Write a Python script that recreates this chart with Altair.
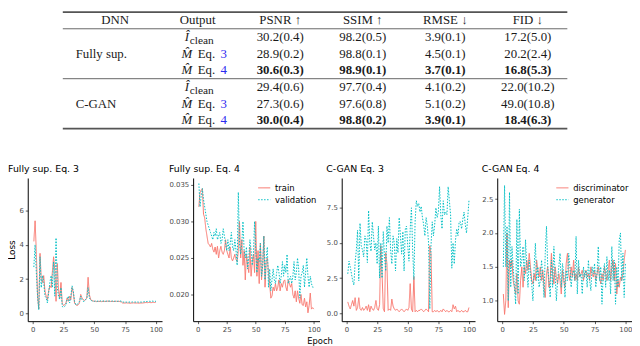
import altair as alt
import pandas as pd

# ---------------- table values ----------------
headers = ["DNN", "Output", "PSNR ↑", "SSIM ↑", "RMSE ↓", "FID ↓"]
row_keys = ["h", "r1", "r2", "r3", "r4", "r5", "r6"]
dnn_groups = ["Fully sup.", "C-GAN"]
dnn_group_rows = ["r2", "r5"]
output_symbol = ["Î", "M\u0302", "M\u0302", "Î", "M\u0302", "M\u0302"]
output_sub = ["clean", "", "", "clean", "", ""]
output_eq = ["", "3", "4", "", "3", "4"]
psnr = ["30.2(0.4)", "28.9(0.2)", "30.6(0.3)", "29.4(0.6)", "27.3(0.6)", "30.0(0.4)"]
ssim = ["98.2(0.5)", "98.8(0.1)", "98.9(0.1)", "97.7(0.4)", "97.6(0.8)", "98.8(0.2)"]
rmse = ["3.9(0.1)", "4.5(0.1)", "3.7(0.1)", "4.1(0.2)", "5.1(0.2)", "3.9(0.1)"]
fid = ["17.2(5.0)", "20.2(2.4)", "16.8(5.3)", "22.0(10.2)", "49.0(10.8)", "18.4(6.3)"]
bold_rows = ["r3", "r6"]

# ---------------- loss curves ----------------
x_ticks = [0, 25, 50, 75, 100]
x_domain = [-3.95, 104.95]

p1_train = [4.2, 5.4, 3.6, 1.0, 0.25, 3.5, 2.0, 1.8, 2.2, 1.3,
            1.0, 0.8, 1.3, 1.6, 1.5, 2.4, 3.3, 2.5, 0.7, 2.9,
            1.4, 0.9, 1.8, 0.6, 0.45, 0.5, 0.6, 0.9, 0.7, 1.0,
            0.8, 1.5, 1.2, 0.6, 0.5, 0.45, 0.5, 0.6, 1.1, 0.9,
            0.8, 0.75, 0.8, 0.9, 2.1, 1.1, 0.8, 0.75, 0.72, 0.7,
            0.7, 0.68, 0.7, 0.69, 0.7, 0.68, 0.7, 0.7, 0.69, 0.7,
            0.71, 0.7, 0.69, 0.7, 0.7, 0.68, 0.7, 0.7, 0.69, 0.7,
            0.68, 0.66, 0.6, 0.6, 0.6, 0.61, 0.6, 0.6, 0.59, 0.6,
            0.6, 0.61, 0.6, 0.6, 0.6, 0.59, 0.6, 0.6, 0.6, 0.61,
            0.62, 0.63, 0.62, 0.63, 0.63, 0.62, 0.63, 0.64, 0.63, 0.65]
p1_val = [2.7, 4.0, 2.4, 1.0, 0.2, 3.3, 1.5, 2.2, 1.8, 1.0,
          0.9, 0.6, 1.2, 1.8, 2.2, 1.5, 3.0, 1.0, 4.4, 1.5,
          1.0, 0.8, 1.5, 0.4, 0.35, 0.4, 0.5, 0.8, 1.0, 0.6,
          1.0, 1.6, 1.3, 0.7, 0.5, 0.5, 0.6, 0.7, 1.0, 0.8,
          0.7, 0.7, 0.8, 0.9, 1.5, 0.9, 0.8, 0.72, 0.7, 0.7,
          0.72, 0.7, 0.71, 0.7, 0.72, 0.7, 0.71, 0.72, 0.7, 0.71,
          0.7, 0.72, 0.71, 0.7, 0.72, 0.71, 0.7, 0.72, 0.7, 0.71,
          0.72, 0.7, 0.66, 0.65, 0.66, 0.65, 0.66, 0.65, 0.66, 0.65,
          0.66, 0.65, 0.66, 0.65, 0.66, 0.65, 0.66, 0.65, 0.66, 0.67,
          0.68, 0.68, 0.69, 0.7, 0.7, 0.69, 0.71, 0.7, 0.7, 0.7]

p2_train = [0.0320, 0.0340, 0.0343, 0.0345, 0.0310, 0.0305, 0.0290, 0.0280, 0.0270, 0.0268,
            0.0265, 0.0270, 0.0262, 0.0258, 0.0265, 0.0255, 0.0266, 0.0250, 0.0260, 0.0266,
            0.0258, 0.0255, 0.0260, 0.0275, 0.0260, 0.0255, 0.0250, 0.0265, 0.0250, 0.0246,
            0.0250, 0.0255, 0.0248, 0.0245, 0.0260, 0.0300, 0.0250, 0.0275, 0.0240, 0.0260,
            0.0220, 0.0255, 0.0240, 0.0230, 0.0265, 0.0225, 0.0245, 0.0255, 0.0230, 0.0300,
            0.0225, 0.0260, 0.0215, 0.0270, 0.0220, 0.0240, 0.0280, 0.0210, 0.0245, 0.0250,
            0.0230, 0.0215, 0.0195, 0.0198, 0.0210, 0.0205, 0.0215, 0.0205, 0.0210, 0.0220,
            0.0205, 0.0215, 0.0210, 0.0218, 0.0220, 0.0210, 0.0205, 0.0220, 0.0215, 0.0210,
            0.0215, 0.0200, 0.0195, 0.0205, 0.0190, 0.0205, 0.0195, 0.0188, 0.0200, 0.0186,
            0.0185, 0.0195, 0.0183, 0.0190, 0.0175, 0.0185, 0.0202, 0.0180, 0.0182, 0.0180]
p2_val = [0.0352, 0.0320, 0.0335, 0.0345, 0.0330, 0.0320, 0.0310, 0.0300, 0.0295, 0.0290,
          0.0285, 0.0280, 0.0275, 0.0285, 0.0280, 0.0290, 0.0275, 0.0280, 0.0285, 0.0270,
          0.0275, 0.0290, 0.0280, 0.0270, 0.0260, 0.0275, 0.0260, 0.0270, 0.0285, 0.0265,
          0.0260, 0.0275, 0.0260, 0.0240, 0.0340, 0.0270, 0.0255, 0.0270, 0.0300, 0.0260,
          0.0250, 0.0265, 0.0235, 0.0250, 0.0275, 0.0260, 0.0240, 0.0255, 0.0300, 0.0260,
          0.0230, 0.0250, 0.0245, 0.0270, 0.0225, 0.0240, 0.0280, 0.0220, 0.0250, 0.0265,
          0.0210, 0.0235, 0.0205, 0.0220, 0.0235, 0.0220, 0.0215, 0.0230, 0.0240, 0.0230,
          0.0215, 0.0225, 0.0245, 0.0225, 0.0240, 0.0230, 0.0255, 0.0215, 0.0220, 0.0225,
          0.0215, 0.0225, 0.0245, 0.0220, 0.0230, 0.0250, 0.0235, 0.0195, 0.0225, 0.0230,
          0.0240, 0.0210, 0.0230, 0.0250, 0.0225, 0.0210, 0.0225, 0.0215, 0.0210, 0.0210]

p3_disc = [0.8, 0.5, 0.3, 0.6, 0.9, 0.5, 1.1, 0.2, 0.4, 1.1,
           0.3, 0.2, 0.4, 0.2, 0.3, 0.5, 0.2, 0.6, 0.1, 0.5,
           0.3, 0.2, 0.4, 0.9, 0.3, 0.2, 0.6, 4.8, 2.8, 0.3,
           0.1, 4.3, 3.5, 0.2, 0.3, 0.2, 1.0, 0.5, 0.3, 0.2,
           0.3, 0.2, 0.1, 0.2, 0.3, 0.2, 0.1, 0.2, 0.3, 0.2,
           0.4, 2.1, 0.3, 0.1, 2.6, 0.1, 0.2, 0.1, 0.2, 0.2,
           0.3, 0.2, 0.1, 0.2, 0.3, 0.2, 0.1, 4.8, 4.2, 0.1,
           0.1, 0.2, 0.1, 0.2, 0.1, 0.1, 0.2, 0.1, 0.3, 0.2,
           0.1, 0.2, 0.1, 0.1, 0.2, 0.1, 0.6, 0.3, 0.5, 0.1,
           0.2, 0.1, 0.1, 0.2, 0.1, 0.1, 0.2, 0.1, 0.1, 0.4]
p3_gen = [2.8, 3.7, 3.3, 2.8, 2.3, 2.0, 3.6, 4.5, 5.9, 2.3,
          6.4, 4.8, 4.5, 4.0, 5.5, 5.2, 3.6, 7.3, 5.0, 4.4,
          6.5, 5.5, 4.5, 5.0, 3.5, 6.2, 2.5, 5.0, 2.5, 5.8,
          4.0, 3.0, 6.2, 5.0, 6.8, 4.5, 3.5, 5.5, 5.0, 3.0,
          5.3, 4.3, 6.8, 5.5, 4.2, 5.8, 3.0, 6.0, 6.2, 4.8,
          3.7, 6.0, 7.5, 4.5, 2.4, 6.5, 8.0, 7.6, 7.8, 7.2,
          7.6, 6.8, 6.3, 5.5, 6.8, 6.2, 5.0, 0.3, 4.8, 6.5,
          5.5, 6.3, 7.5, 6.8, 7.2, 9.0, 7.0, 6.0, 8.0, 7.0,
          7.2, 7.0, 9.0, 8.0, 7.0, 3.2, 5.0, 3.5, 5.2, 6.0,
          5.5, 6.5, 6.5, 6.0, 6.7, 7.2, 6.3, 5.7, 6.8, 8.0]

p4_disc = [1.1, 0.8, 1.0, 2.0, 0.9, 1.6, 1.5, 1.6, 1.3, 1.2,
           1.1, 1.4, 1.0, 0.95, 1.3, 1.5, 1.2, 1.5, 1.4, 1.6,
           1.45, 1.7, 1.5, 1.3, 1.25, 1.4, 1.3, 1.6, 1.45, 1.35,
           1.5, 1.3, 1.45, 1.2, 1.05, 1.4, 1.5, 1.2, 1.3, 1.7,
           1.4, 1.25, 1.5, 1.35, 1.25, 1.4, 1.3, 1.1, 1.45, 1.3,
           1.2, 1.55, 1.7, 1.4, 1.3, 1.5, 1.35, 1.6, 1.3, 1.4,
           1.3, 1.5, 1.35, 1.4, 1.45, 1.3, 1.4, 1.45, 1.35, 1.4,
           1.3, 1.5, 1.4, 1.35, 1.45, 1.3, 1.4, 1.5, 1.35, 1.25,
           1.4, 1.3, 1.5, 1.4, 1.3, 1.45, 1.6, 1.3, 1.5, 1.6,
           1.3, 1.55, 1.1, 1.3, 1.2, 1.35, 1.3, 1.4, 1.6, 1.75]
p4_gen = [1.5, 2.7, 1.5, 2.1, 1.0, 2.6, 1.2, 1.8, 1.5, 1.2,
          0.95, 2.2, 1.1, 2.35, 1.5, 1.6, 1.8, 1.3, 1.9, 1.5,
          1.2, 1.6, 1.4, 1.25, 1.0, 1.5, 1.85, 1.3, 1.5, 1.2,
          1.3, 1.6, 1.35, 1.05, 1.7, 2.1, 1.5, 1.3, 1.05, 1.6,
          1.2, 1.8, 1.4, 1.0, 1.3, 1.5, 1.7, 1.2, 1.55, 1.4,
          1.05, 1.45, 1.3, 1.7, 1.5, 1.2, 1.4, 1.45, 1.3, 1.95,
          1.1, 1.6, 1.35, 1.4, 1.1, 1.5, 1.35, 1.45, 1.2, 1.6,
          1.3, 1.15, 1.5, 1.4, 1.55, 1.2, 1.4, 1.8, 1.3, 1.5,
          0.95, 1.4, 1.55, 1.2, 1.65, 1.3, 1.45, 1.1, 1.8, 1.3,
          1.6, 0.95, 1.5, 1.2, 1.9, 2.0, 1.3, 1.7, 1.05, 1.55]

RED = "#F8766D"
CYAN = "#00BFC4"
SANS = "DejaVu Sans"
SERIF = "Liberation Serif"

# ---------------- table chart ----------------
metric_rows = []
for name, vals in zip(headers[2:], [psnr, ssim, rmse, fid]):
    for i, v in enumerate(vals):
        metric_rows.append({"col": name, "row": row_keys[i + 1], "text": v,
                            "bold": row_keys[i + 1] in bold_rows})
metric_df = pd.DataFrame(metric_rows)
header_df = pd.DataFrame({"col": headers, "row": "h", "text": headers})
group_df = pd.DataFrame({"col": "DNN", "row": dnn_group_rows, "text": dnn_groups})
out_df = pd.DataFrame({"col": "Output", "row": row_keys[1:], "sym": output_symbol,
                       "sub": output_sub, "eq": output_eq})
thick_top = pd.DataFrame({"row": [row_keys[0]]})
thick_bottom = pd.DataFrame({"row": [row_keys[-1]]})
thin_rules = pd.DataFrame({"row": ["r1", "r4"]})

spacer_axis = alt.Axis(orient="right", labels=False, ticks=False, domain=False, grid=False,
                       titlePadding=20, titleFontSize=10, titleOpacity=0)
X_T = alt.X("col:N", scale=alt.Scale(domain=headers, range=[53, 471], padding=0), axis=None)


def Y_T(bp):
    return alt.Y("row:N", bandPosition=bp,
                 scale=alt.Scale(domain=row_keys, type="band", paddingInner=0, paddingOuter=0),
                 axis=spacer_axis, title="I")


txt = dict(font=SERIF, fontSize=13, color="#1a1a1a", baseline="middle")

t_header = alt.Chart(header_df).mark_text(**txt).encode(x=X_T, y=Y_T(0.5), text="text:N")
t_metric = alt.Chart(metric_df).transform_filter("!datum.bold").mark_text(**txt).encode(
    x=X_T, y=Y_T(0.5), text="text:N")
t_metric_b = alt.Chart(metric_df).transform_filter("datum.bold").mark_text(
    fontWeight="bold", **txt).encode(x=X_T, y=Y_T(0.5), text="text:N")
t_group = alt.Chart(group_df).mark_text(align="left", dx=-40, **txt).encode(
    x=X_T, y=Y_T(0.5), text="text:N")
t_sym = alt.Chart(out_df).mark_text(fontStyle="italic", dx=-11, **txt).encode(
    x=X_T, y=Y_T(0.5), text="sym:N")
t_sub = alt.Chart(out_df).transform_filter("datum.sub != ''").mark_text(
    align="left", dx=-8, dy=4, font=SERIF, fontSize=11.5, color="#1a1a1a",
    baseline="middle").encode(x=X_T, y=Y_T(0.5), text="sub:N")
t_eq = alt.Chart(out_df).transform_filter("datum.eq != ''").mark_text(
    align="left", dx=0, text="Eq.", **txt).encode(x=X_T, y=Y_T(0.5))
t_num = alt.Chart(out_df).transform_filter("datum.eq != ''").mark_text(
    align="left", dx=23, font=SERIF, fontSize=13, color="#2b2bf0", baseline="middle").encode(
    x=X_T, y=Y_T(0.5), text="eq:N")
r_top = alt.Chart(thick_top).mark_rule(color="#555", strokeWidth=1.6).encode(y=Y_T(0))
r_bot = alt.Chart(thick_bottom).mark_rule(color="#555", strokeWidth=1.6).encode(y=Y_T(1))
r_thin = alt.Chart(thin_rules).mark_rule(color="#555", strokeWidth=0.9).encode(y=Y_T(0))

table = alt.layer(r_top, r_bot, r_thin, t_header, t_metric, t_metric_b, t_group,
                  t_sym, t_sub, t_eq, t_num).properties(width=511, height=118)


# ---------------- panels ----------------
def panel(title, names, s1, s2, ydom, yticks, yfmt, width, show_legend, ytitle=None):
    df = pd.concat([
        pd.DataFrame({"epoch": list(range(1, len(s1) + 1)), "loss": s1, "series": names[0]}),
        pd.DataFrame({"epoch": list(range(1, len(s2) + 1)), "loss": s2, "series": names[1]}),
    ])
    if show_legend:
        leg = alt.Legend(title=None, orient="top-right", offset=3, padding=0,
                         labelFontSize=8.5, labelFont=SANS, labelColor="#000",
                         symbolType="stroke", symbolSize=150, symbolStrokeWidth=1,
                         rowPadding=0, labelOffset=4)
    else:
        leg = None
    yaxis = alt.Axis(values=yticks, format=yfmt, grid=False, titleFontSize=9,
                     titleFontWeight="normal", titlePadding=2, titleColor="#000")
    return alt.Chart(df).mark_line(strokeWidth=1, clip=True).encode(
        x=alt.X("epoch:Q", scale=alt.Scale(domain=x_domain, nice=False, zero=False),
                axis=alt.Axis(values=x_ticks, grid=False), title=None),
        y=alt.Y("loss:Q", scale=alt.Scale(domain=ydom, nice=False, zero=False),
                axis=yaxis, title=ytitle),
        color=alt.Color("series:N", scale=alt.Scale(domain=names, range=[RED, CYAN]), legend=leg),
        strokeDash=alt.StrokeDash("series:N", scale=alt.Scale(domain=names, range=[[1, 0], [1.5, 1.5]]),
                                  legend=leg),
    ).properties(width=width, height=145,
                 title=alt.TitleParams(title, anchor="start", fontSize=9.5, fontWeight="normal",
                                       font=SANS, color="#000", offset=5))


names_a = ["train", "validation"]
names_b = ["discriminator", "generator"]
p1 = panel("Fully sup. Eq. 3", names_a, p1_train, p1_val, [-0.46, 7.9], [0, 2, 4, 6], "d",
           136, False, "Loss")
p2 = panel("Fully sup. Eq. 4", names_a, p2_train, p2_val, [0.01635, 0.03595],
           [0.020, 0.025, 0.030, 0.035], ".3f", 128, True)
p3 = panel("C-GAN Eq. 3", names_b, p3_disc, p3_gen, [-0.57, 9.62], [0, 2.5, 5, 7.5], ".1f",
           135, False)
p4 = panel("C-GAN Eq. 4", names_b, p4_disc, p4_gen, [0.70, 2.81], [1.0, 1.5, 2.0, 2.5], ".1f",
           136, True)

panels = alt.hconcat(p1, p2, p3, p4, spacing=5.5,
                     title=alt.TitleParams("Epoch", orient="bottom", anchor="middle", fontSize=8.5,
                                           fontWeight="normal", font=SANS, color="#000", offset=5)
                     ).resolve_scale(color="independent", strokeDash="independent")

chart = alt.vconcat(table, panels, spacing=34, center=True).properties(
    padding={"left": 0, "top": 1, "right": 0, "bottom": 0}
).configure_view(stroke=None).configure_axis(
    labelFont=SANS, labelFontSize=7, labelColor="#4d4d4d", labelPadding=2,
    tickColor="#333", tickSize=2.5, tickWidth=0.8, domainColor="#000", domainWidth=1,
    titleFont=SANS
)

chart.save("out.html", embed_options={"renderer": "svg", "actions": False})
